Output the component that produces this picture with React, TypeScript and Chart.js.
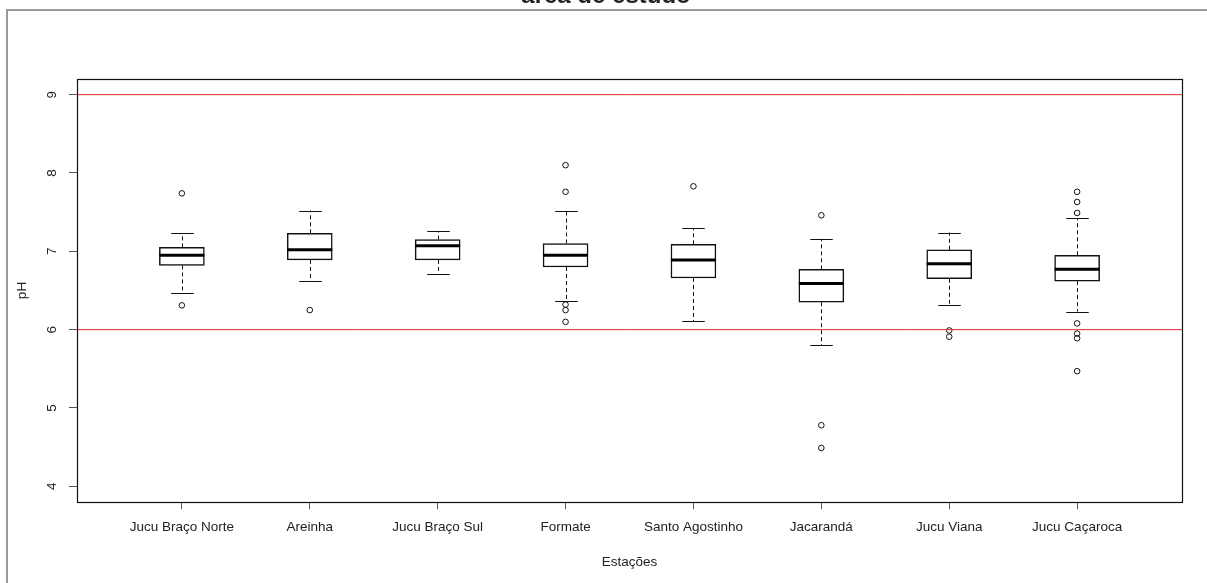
import React, { useEffect, useRef } from "react";
import { Chart, registerables } from "chart.js";

Chart.register(...registerables);

const stations = [
  "Jucu Braço Norte",
  "Areinha",
  "Jucu Braço Sul",
  "Formate",
  "Santo Agostinho",
  "Jacarandá",
  "Jucu Viana",
  "Jucu Caçaroca",
];
const lowerWhisker = [6.47, 6.62, 6.71, 6.36, 6.11, 5.8, 6.31, 6.23];
const q1 = [6.82, 6.89, 6.89, 6.8, 6.66, 6.35, 6.65, 6.62];
const median = [6.95, 7.02, 7.07, 6.95, 6.89, 6.59, 6.84, 6.77];
const q3 = [7.05, 7.23, 7.15, 7.1, 7.09, 6.77, 7.02, 6.95];
const upperWhisker = [7.23, 7.52, 7.26, 7.52, 7.3, 7.16, 7.24, 7.42];
const outliers: number[][] = [
  [7.74, 6.31],
  [6.25],
  [],
  [8.1, 7.76, 6.32, 6.25, 6.1],
  [7.83],
  [7.46, 4.78, 4.49],
  [5.99, 5.91],
  [7.76, 7.63, 7.49, 6.08, 5.95, 5.89, 5.47],
];
const limitLines = [6, 9];
const yTicks = [4, 5, 6, 7, 8, 9];
const yRange = [3.8, 9.2];
const xRange = [0.18, 8.82];
const titleText = "área de estudo";
const xTitle = "Estações";
const yTitle = "pH";

const FONT = "'Liberation Sans', Arial, sans-serif";
const TEXT = "#222";

const extras = {
  id: "boxExtras",
  beforeDraw(chart: any) {
    const ctx = chart.ctx;
    ctx.save();
    ctx.strokeStyle = "#9a9a9a";
    ctx.lineWidth = 2;
    ctx.strokeRect(7, 10, 1300, 800);
    ctx.fillStyle = TEXT;
    ctx.font = `bold 24px ${FONT}`;
    ctx.textAlign = "center";
    ctx.textBaseline = "alphabetic";
    ctx.fillText(titleText, 606, 3);
    ctx.restore();
  },
  beforeDatasetsDraw(chart: any) {
    const ctx = chart.ctx;
    const xs = chart.scales.x;
    const ys = chart.scales.y;
    const meta = chart.getDatasetMeta(0);
    ctx.save();
    ctx.strokeStyle = "#111";
    ctx.lineWidth = 1;
    stations.forEach((_, i) => {
      const cx = Math.round(xs.getPixelForValue(i + 1)) + 0.5;
      const bw = meta.data[i] ? meta.data[i].width : 45;
      const cap = bw / 4;
      const yLw = ys.getPixelForValue(lowerWhisker[i]);
      const yQ1 = ys.getPixelForValue(q1[i]);
      const yQ3 = ys.getPixelForValue(q3[i]);
      const yUw = ys.getPixelForValue(upperWhisker[i]);
      ctx.setLineDash([4, 3]);
      ctx.beginPath();
      ctx.moveTo(cx, yQ3);
      ctx.lineTo(cx, yUw);
      ctx.moveTo(cx, yQ1);
      ctx.lineTo(cx, yLw);
      ctx.stroke();
      ctx.setLineDash([]);
      ctx.beginPath();
      ctx.moveTo(cx - cap, Math.round(yUw) + 0.5);
      ctx.lineTo(cx + cap, Math.round(yUw) + 0.5);
      ctx.moveTo(cx - cap, Math.round(yLw) + 0.5);
      ctx.lineTo(cx + cap, Math.round(yLw) + 0.5);
      ctx.stroke();
    });
    ctx.restore();
  },
  afterDatasetDraw(chart: any, args: any) {
    if (args.index !== 0) return;
    const ctx = chart.ctx;
    const xs = chart.scales.x;
    const ys = chart.scales.y;
    const meta = chart.getDatasetMeta(0);
    ctx.save();
    ctx.strokeStyle = "#000";
    ctx.lineWidth = 3;
    stations.forEach((_, i) => {
      const cx = xs.getPixelForValue(i + 1);
      const bw = meta.data[i] ? meta.data[i].width : 45;
      const y = ys.getPixelForValue(median[i]);
      ctx.beginPath();
      ctx.moveTo(cx - bw / 2, y);
      ctx.lineTo(cx + bw / 2, y);
      ctx.stroke();
    });
    ctx.restore();
  },
  afterDraw(chart: any) {
    const { left, top, right, bottom } = chart.chartArea;
    const ctx = chart.ctx;
    ctx.save();
    ctx.strokeStyle = "#111";
    ctx.lineWidth = 1.2;
    ctx.strokeRect(left + 0.5, top + 0.5, right - left, bottom - top);
    ctx.restore();
  },
};

export default function App() {
  const ref = useRef<HTMLCanvasElement>(null);
  useEffect(() => {
    document.body.style.margin = "0";
    const canvas = ref.current;
    if (!canvas) return;
    const datasets: any[] = [
      {
        type: "bar",
        data: stations.map((_, i) => ({ x: i + 1, y: [q1[i], q3[i]] })),
        backgroundColor: "#ffffff",
        borderColor: "#111",
        borderWidth: 1.5,
        borderSkipped: false,
        barThickness: 45,
        order: 3,
      },
      {
        type: "scatter",
        data: outliers.flatMap((vals, i) => vals.map((v) => ({ x: i + 1, y: v }))),
        pointStyle: "circle",
        pointRadius: 2.8,
        pointBorderWidth: 1,
        pointBorderColor: "#111",
        pointBackgroundColor: "rgba(255,255,255,0)",
        order: 2,
      },
      ...limitLines.map((v) => ({
        type: "line",
        data: [
          { x: xRange[0], y: v },
          { x: xRange[1], y: v },
        ],
        borderColor: "#e0282c",
        borderWidth: 1,
        pointRadius: 0,
        fill: false,
        order: 1,
      })),
    ];
    const chart = new Chart(canvas, {
      type: "bar",
      data: { datasets },
      plugins: [extras],
      options: {
        animation: false,
        responsive: true,
        maintainAspectRatio: false,
        layout: { padding: { top: 79, right: 25, left: 0, bottom: 0 } },
        plugins: {
          legend: { display: false },
          tooltip: { enabled: false },
          title: { display: false },
        },
        scales: {
          x: {
            type: "linear",
            offset: false,
            min: xRange[0],
            max: xRange[1],
            afterBuildTicks: (scale: any) => {
              scale.ticks = stations.map((_, i) => ({ value: i + 1 }));
            },
            afterFit: (scale: any) => {
              scale.height = 81;
            },
            grid: {
              display: true,
              offset: false,
              drawOnChartArea: false,
              drawTicks: true,
              tickLength: 7,
              tickColor: "#555",
              tickWidth: 1,
            },
            border: { display: false },
            ticks: {
              autoSkip: false,
              maxRotation: 0,
              minRotation: 0,
              padding: 10,
              color: TEXT,
              font: { family: FONT, size: 13.5 },
              callback: (value: any) => stations[Number(value) - 1] ?? "",
            },
            title: {
              display: true,
              text: xTitle,
              color: TEXT,
              font: { family: FONT, size: 13.5 },
              padding: { top: 0, bottom: 13 },
            },
          },
          y: {
            type: "linear",
            min: yRange[0],
            max: yRange[1],
            afterBuildTicks: (scale: any) => {
              scale.ticks = yTicks.map((v) => ({ value: v }));
            },
            afterFit: (scale: any) => {
              scale.width = 77;
            },
            grid: {
              display: true,
              drawOnChartArea: false,
              drawTicks: true,
              tickLength: 8,
              tickColor: "#555",
              tickWidth: 1,
            },
            border: { display: false },
            ticks: {
              minRotation: 90,
              maxRotation: 90,
              crossAlign: "center",
              padding: 13,
              color: TEXT,
              font: { family: FONT, size: 13.5 },
              callback: (value: any) => String(value),
            },
            title: {
              display: true,
              text: yTitle,
              color: TEXT,
              font: { family: FONT, size: 13.5 },
              padding: { top: 14, bottom: 0 },
            },
          },
        },
      } as any,
    });
    return () => chart.destroy();
  }, []);
  return (
    <div style={{ width: 1207, height: 583, position: "relative" }}>
      <canvas ref={ref} />
    </div>
  );
}
